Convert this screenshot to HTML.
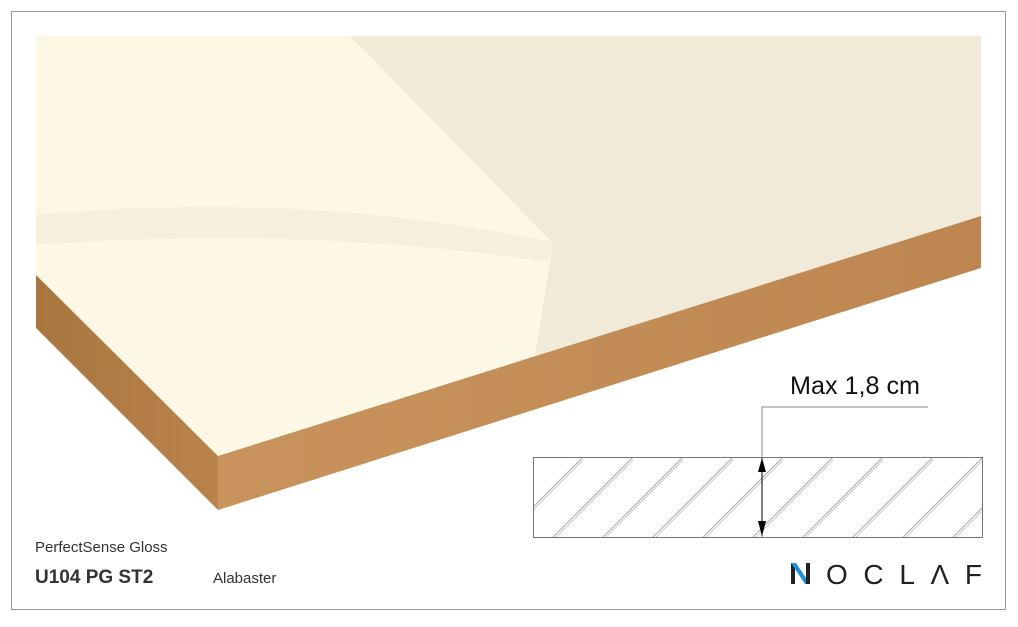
<!DOCTYPE html>
<html><head><style>
body{margin:0;background:#fff;width:1018px;height:622px;overflow:hidden;}
svg text{font-family:"Liberation Sans",Arial,sans-serif;}
</style></head><body>
<svg width="1018" height="622" viewBox="0 0 1018 622" xmlns="http://www.w3.org/2000/svg" font-family="Liberation Sans, Arial, sans-serif">
<defs>
<linearGradient id="wl" x1="0" y1="0" x2="1" y2="0"><stop offset="0" stop-color="#a9763f"/><stop offset="1" stop-color="#b9844c"/></linearGradient>
<linearGradient id="wr" x1="0" y1="0" x2="1" y2="0"><stop offset="0" stop-color="#c8935c"/><stop offset="1" stop-color="#bd8650"/></linearGradient>
<pattern id="h" width="50" height="80" patternUnits="userSpaceOnUse" x="533" y="457">
<line x1="-30" y1="80" x2="50" y2="0" stroke="#999" stroke-width="0.8"/>
<line x1="-27" y1="80" x2="53" y2="0" stroke="#bbb" stroke-width="0.8"/>
<line x1="20" y1="80" x2="100" y2="0" stroke="#999" stroke-width="0.8"/>
<line x1="23" y1="80" x2="103" y2="0" stroke="#bbb" stroke-width="0.8"/>
</pattern>
</defs>
<rect x="11.5" y="11.5" width="994" height="598" fill="none" stroke="#999"/>
<polygon points="36,36 981,36 981,216 218,456 36,275" fill="#fdf7e5"/>
<polygon points="350,36 981,36 981,216 535,356 550,262 552,242" fill="#f1ead8"/>
<path d="M36,215 Q300,190 552,242 L548,262 Q300,225 36,245 Z" fill="#f3ecda" opacity="0.8"/>
<polygon points="36,275 218,456 218,510 36,328" fill="url(#wl)"/>
<polygon points="218,456 981,216 981,268 218,510" fill="url(#wr)"/>
<rect x="533.5" y="457.5" width="449" height="80" fill="url(#h)" stroke="#777"/>
<polyline points="928,407 762,407 762,537" fill="none" stroke="#888"/>
<line x1="762" y1="458" x2="762" y2="536" stroke="#000"/>
<polygon points="762,458 758,472 766,472" fill="#000"/>
<polygon points="762,536 758,521 766,521" fill="#000"/>
<text x="790" y="394" font-size="25" fill="#111" textLength="130" lengthAdjust="spacingAndGlyphs">Max 1,8 cm</text>
<text x="35" y="552" font-size="15" fill="#333">PerfectSense Gloss</text>
<text x="35" y="583" font-size="19" font-weight="bold" fill="#333">U104 PG ST2</text>
<text x="213" y="583" font-size="15" fill="#333">Alabaster</text>
<polygon points="791,584 791,563 795,563 795,584" fill="#222"/>
<polygon points="791,563 796,563 810,584 805,584" fill="#1e8fd1"/>
<polygon points="806,563 810,563 810,584 806,584" fill="#222"/>
<text x="826" y="584" font-size="28" fill="#222" textLength="156" lengthAdjust="spacing">OCLΛF</text>
</svg>
</body></html>
